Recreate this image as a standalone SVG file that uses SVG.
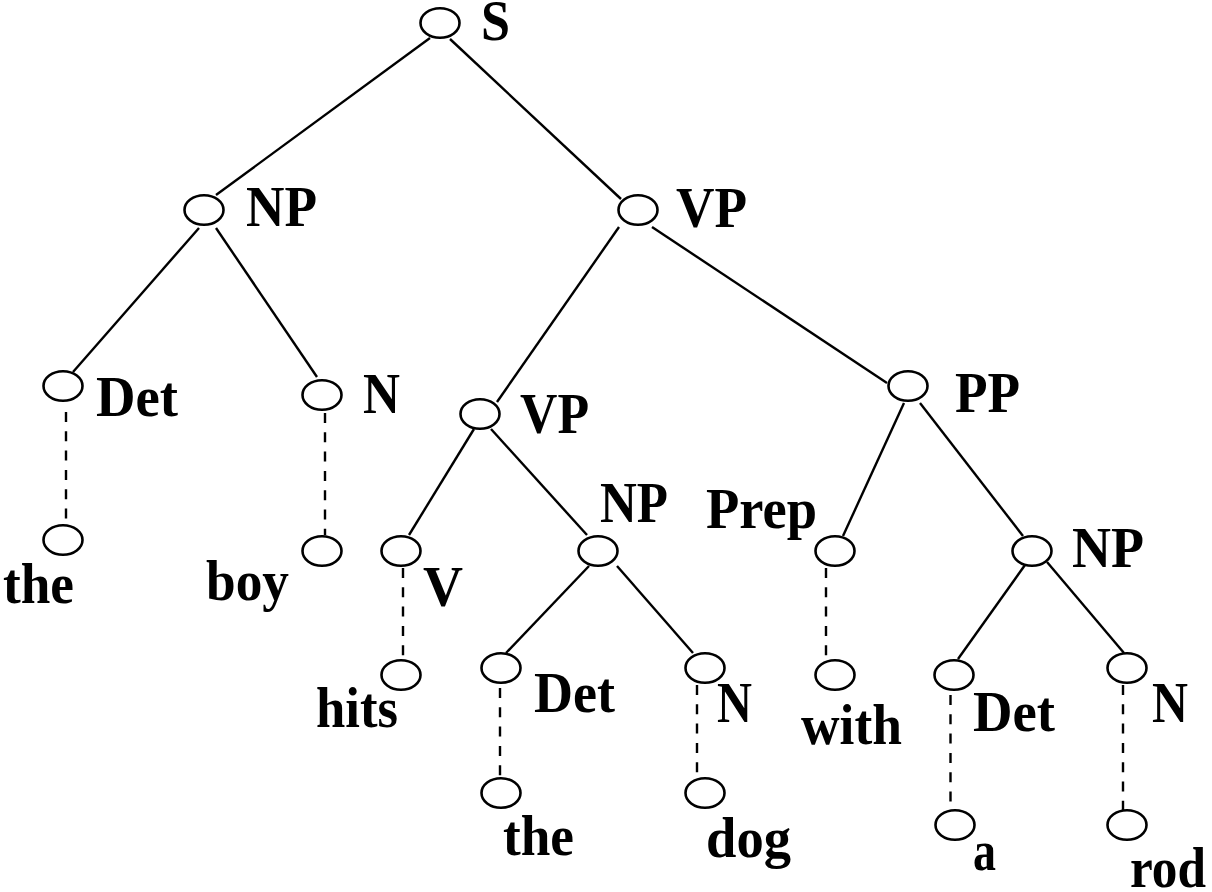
<svg xmlns="http://www.w3.org/2000/svg" width="1212" height="892" viewBox="0 0 1212 892">
<style>
.n{fill:#fff;stroke:#000;stroke-width:2.6}
.e{stroke:#000;stroke-width:2.4;fill:none}
.d{stroke:#000;stroke-width:2.4;fill:none;stroke-dasharray:10 9.3}
text{font-family:"Liberation Serif","Times New Roman",serif;font-weight:bold;font-size:57px;fill:#000}
</style>
<rect width="1212" height="892" fill="#fff"/>
<g id="connectors">
<line class="e" x1="430" y1="38" x2="216" y2="195"/>
<line class="e" x1="450" y1="39" x2="621" y2="199"/>
<line class="e" x1="199" y1="228" x2="73" y2="372"/>
<line class="e" x1="216" y1="228" x2="317" y2="377"/>
<line class="e" x1="619" y1="227" x2="497" y2="402"/>
<line class="e" x1="652" y1="227" x2="887" y2="383"/>
<line class="e" x1="474" y1="429" x2="409" y2="535"/>
<line class="e" x1="491" y1="429" x2="587" y2="535"/>
<line class="e" x1="904" y1="403" x2="843" y2="536"/>
<line class="e" x1="920" y1="403" x2="1023" y2="536"/>
<line class="e" x1="589" y1="566" x2="506" y2="653"/>
<line class="e" x1="617" y1="566" x2="693" y2="653"/>
<line class="e" x1="1025" y1="565" x2="958" y2="659"/>
<line class="e" x1="1047" y1="562" x2="1124" y2="653"/>
<line class="d" x1="66" y1="412" x2="66" y2="522"/>
<line class="d" x1="325" y1="413" x2="325" y2="535"/>
<line class="d" x1="403" y1="568" x2="403" y2="660"/>
<line class="d" x1="500" y1="688" x2="500" y2="778"/>
<line class="d" x1="697" y1="685" x2="697" y2="778"/>
<line class="d" x1="826" y1="568" x2="826" y2="660"/>
<line class="d" x1="950.5" y1="695" x2="950.5" y2="810"/>
<line class="d" x1="1123" y1="685" x2="1123" y2="810"/>
</g>
<g id="S"><ellipse class="n" cx="440" cy="23" rx="19.5" ry="14.8"/><text x="481" y="40" textLength="29" lengthAdjust="spacingAndGlyphs">S</text></g>
<g id="NP1"><ellipse class="n" cx="204" cy="210" rx="19.5" ry="14.8"/><text x="246" y="226" textLength="71" lengthAdjust="spacingAndGlyphs">NP</text></g>
<g id="VP1"><ellipse class="n" cx="638" cy="210" rx="19.5" ry="14.8"/><text x="676" y="227" textLength="71" lengthAdjust="spacingAndGlyphs">VP</text></g>
<g id="Det1"><ellipse class="n" cx="63" cy="386" rx="19.5" ry="14.8"/><text x="96" y="416" textLength="82" lengthAdjust="spacingAndGlyphs">Det</text></g>
<g id="N1"><ellipse class="n" cx="322" cy="395" rx="19.5" ry="14.8"/><text x="363" y="413" textLength="37" lengthAdjust="spacingAndGlyphs">N</text></g>
<g id="VP2"><ellipse class="n" cx="480" cy="414" rx="19.5" ry="14.8"/><text x="520" y="433" textLength="69" lengthAdjust="spacingAndGlyphs">VP</text></g>
<g id="PP"><ellipse class="n" cx="908" cy="386" rx="19.5" ry="14.8"/><text x="955" y="412" textLength="65" lengthAdjust="spacingAndGlyphs">PP</text></g>
<g id="the1"><ellipse class="n" cx="63" cy="540" rx="19.5" ry="14.8"/><text x="3" y="603" textLength="71" lengthAdjust="spacingAndGlyphs">the</text></g>
<g id="boy"><ellipse class="n" cx="322" cy="551" rx="19.5" ry="14.8"/><text x="206" y="600" textLength="83" lengthAdjust="spacingAndGlyphs">boy</text></g>
<g id="V"><ellipse class="n" cx="401" cy="551" rx="19.5" ry="14.8"/><text x="423" y="606" textLength="40" lengthAdjust="spacingAndGlyphs">V</text></g>
<g id="NP2"><ellipse class="n" cx="598" cy="551" rx="19.5" ry="14.8"/><text x="600" y="522" textLength="68" lengthAdjust="spacingAndGlyphs">NP</text></g>
<g id="Prep"><ellipse class="n" cx="835" cy="551" rx="19.5" ry="14.8"/><text x="706" y="528" textLength="111" lengthAdjust="spacingAndGlyphs">Prep</text></g>
<g id="NP3"><ellipse class="n" cx="1032" cy="551" rx="19.5" ry="14.8"/><text x="1072" y="567" textLength="72" lengthAdjust="spacingAndGlyphs">NP</text></g>
<g id="hits"><ellipse class="n" cx="401" cy="675" rx="19.5" ry="14.8"/><text x="316" y="727" textLength="82" lengthAdjust="spacingAndGlyphs">hits</text></g>
<g id="Det2"><ellipse class="n" cx="501" cy="668" rx="19.5" ry="14.8"/><text x="534" y="712" textLength="81" lengthAdjust="spacingAndGlyphs">Det</text></g>
<g id="N2"><ellipse class="n" cx="705" cy="668" rx="19.5" ry="14.8"/><text x="717" y="722" textLength="35" lengthAdjust="spacingAndGlyphs">N</text></g>
<g id="with"><ellipse class="n" cx="835" cy="675" rx="19.5" ry="14.8"/><text x="801" y="744" textLength="101" lengthAdjust="spacingAndGlyphs">with</text></g>
<g id="Det3"><ellipse class="n" cx="954" cy="675" rx="19.5" ry="14.8"/><text x="973" y="731" textLength="82" lengthAdjust="spacingAndGlyphs">Det</text></g>
<g id="N3"><ellipse class="n" cx="1127" cy="668" rx="19.5" ry="14.8"/><text x="1152" y="722" textLength="36" lengthAdjust="spacingAndGlyphs">N</text></g>
<g id="the2"><ellipse class="n" cx="501" cy="793" rx="19.5" ry="14.8"/><text x="503" y="855" textLength="71" lengthAdjust="spacingAndGlyphs">the</text></g>
<g id="dog"><ellipse class="n" cx="705" cy="793" rx="19.5" ry="14.8"/><text x="706" y="857" textLength="85" lengthAdjust="spacingAndGlyphs">dog</text></g>
<g id="a"><ellipse class="n" cx="955" cy="825" rx="19.5" ry="14.8"/><text x="973" y="870" textLength="23" lengthAdjust="spacingAndGlyphs">a</text></g>
<g id="rod"><ellipse class="n" cx="1127" cy="825" rx="19.5" ry="14.8"/><text x="1130" y="887" textLength="76" lengthAdjust="spacingAndGlyphs">rod</text></g>
</svg>
